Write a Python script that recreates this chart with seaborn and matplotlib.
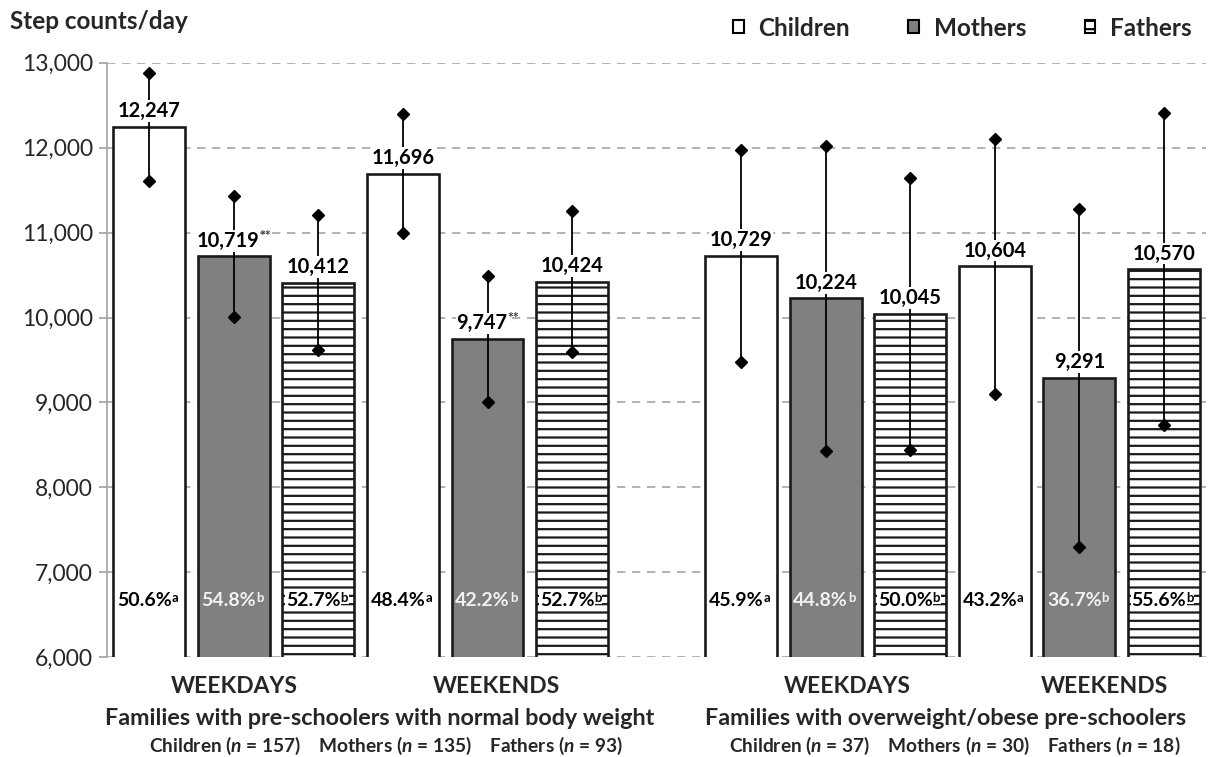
import pandas as pd
import seaborn as sns
import matplotlib.pyplot as plt
import matplotlib.ticker as mticker
from matplotlib.patches import Patch

sns.set_theme(style="white")
plt.rcParams["font.family"] = ["Lato", "DejaVu Sans"]
plt.rcParams["mathtext.fontset"] = "custom"
plt.rcParams["mathtext.rm"] = "Lato:bold"
plt.rcParams["mathtext.it"] = "Lato:italic:bold"
plt.rcParams["mathtext.bf"] = "Lato:bold"
plt.rcParams["hatch.linewidth"] = 1.6
plt.rcParams["hatch.color"] = "black"

"""
Step counts/day of children, mothers and fathers, weekdays vs weekends,
for families with normal weight and overweight/obese pre-schoolers.
"""
members = ["Children", "Mothers", "Fathers"]

# means
normal_weekdays = [12247, 10719, 10412]
normal_weekends = [11696, 9747, 10424]
obese_weekdays = [10729, 10224, 10045]
obese_weekends = [10604, 9291, 10570]

# whiskers (+/-)
normal_weekdays_sd = [637, 713, 790]
normal_weekends_sd = [705, 740, 828]
obese_weekdays_sd = [1250, 1795, 1600]
obese_weekends_sd = [1500, 1990, 1835]

# % meeting recommendation + superscripts
normal_weekdays_pct = ["50.6%", "54.8%", "52.7%"]
normal_weekends_pct = ["48.4%", "42.2%", "52.7%"]
obese_weekdays_pct = ["45.9%", "44.8%", "50.0%"]
obese_weekends_pct = ["43.2%", "36.7%", "55.6%"]
pct_sup = ["a", "b", "b"]

# significance marks on the mean labels
normal_weekdays_sig = ["", "**", ""]
normal_weekends_sig = ["", "**", ""]
obese_weekdays_sig = ["", "", ""]
obese_weekends_sig = ["", "", ""]

day_labels = ["WEEKDAYS", "WEEKENDS", "WEEKDAYS", "WEEKENDS"]
family_labels = ["Families with pre-schoolers with normal body weight",
                 "Families with overweight/obese pre-schoolers"]
n_labels = ["Children ($n$ = 157)    Mothers ($n$ = 135)    Fathers ($n$ = 93)",
            "Children ($n$ = 37)    Mothers ($n$ = 30)    Fathers ($n$ = 18)"]

# Build the long table, one row per bar
blocks = [("N-WD", normal_weekdays, normal_weekdays_sd, normal_weekdays_pct, normal_weekdays_sig),
          ("N-WE", normal_weekends, normal_weekends_sd, normal_weekends_pct, normal_weekends_sig),
          ("O-WD", obese_weekdays, obese_weekdays_sd, obese_weekdays_pct, obese_weekdays_sig),
          ("O-WE", obese_weekends, obese_weekends_sd, obese_weekends_pct, obese_weekends_sig)]
rows = []
for key, vals, sds, pcts, sigs in blocks:
    for m, v, s, p, g, sup in zip(members, vals, sds, pcts, sigs, pct_sup):
        rows.append({"slot": key + "-" + m, "member": m, "steps": v, "sd": s,
                     "pct": p, "sup": sup, "sig": g})
df = pd.DataFrame(rows)

order = list(df["slot"][:6]) + ["gap"] + list(df["slot"][6:])
df["pos"] = df["slot"].apply(order.index)

fig = plt.figure(figsize=(12.16, 7.57), dpi=100)
ax = fig.add_axes([0.088, 0.132, 0.904, 0.785])

palette = {"Children": "white", "Mothers": "#808080", "Fathers": "white"}
sns.barplot(data=df, x="slot", y="steps", hue="member", order=order, hue_order=members,
            palette=palette, dodge=False, width=0.85, edgecolor="#1a1a1a", linewidth=1.9,
            errorbar=None, legend=False, ax=ax, zorder=2)
for bar in ax.containers[2]:
    bar.set_hatch("--")

# whiskers with diamond ends
ax.errorbar(df["pos"], df["steps"], yerr=df["sd"], fmt="none", ecolor="black",
            elinewidth=1.3, capsize=0, zorder=3)
ax.plot(df["pos"], df["steps"] + df["sd"], "D", color="black", markersize=6.5, zorder=3)
ax.plot(df["pos"], df["steps"] - df["sd"], "D", color="black", markersize=6.5, zorder=3)

# mean labels
for _, r in df.iterrows():
    shift = -4 if r["sig"] else 0
    t = ax.annotate(f"{r['steps']:,}", xy=(r["pos"], r["steps"]), xytext=(shift, 4),
                    textcoords="offset points", ha="center", va="bottom",
                    fontsize=14.5, fontweight="bold", color="black", zorder=5,
                    bbox=dict(fc="white", ec="none", pad=0.6))
    if r["sig"]:
        ax.annotate(r["sig"], xy=(1.0, 1.05), xycoords=t, ha="left", va="top",
                    fontsize=10, fontweight="bold", color="#404040", zorder=5)

# percentage labels inside the bars
for _, r in df.iterrows():
    col = "#f2f2f2" if r["member"] == "Mothers" else "black"
    box = dict(fc="white", ec="none", pad=0.5) if r["member"] == "Fathers" else None
    t = ax.text(r["pos"] - 0.06, 0.096, r["pct"], transform=ax.get_xaxis_transform(),
                ha="center", va="center", fontsize=14, fontweight="bold", color=col,
                zorder=5, bbox=box)
    ax.annotate(r["sup"], xy=(1.0, 1.0), xycoords=t, ha="left", va="top",
                fontsize=9.5, fontweight="bold", color=col, zorder=5,
                bbox=dict(fc="white", ec="none", pad=0.5) if r["member"] == "Fathers" else None)

ax.set_ylim(6000, 13000)
ax.set_xlim(-0.5, len(order) - 0.5)
ax.yaxis.set_major_locator(mticker.MultipleLocator(1000))
ax.yaxis.set_major_formatter(mticker.StrMethodFormatter("{x:,.0f}"))
ax.yaxis.grid(True, linestyle=(0, (5, 4)), color="#a6a6a6", linewidth=1.2)
ax.set_axisbelow(True)
for s in ["top", "right", "bottom"]:
    ax.spines[s].set_visible(False)
ax.spines["left"].set_color("#a6a6a6")
ax.spines["left"].set_linewidth(1.2)
ax.tick_params(axis="y", left=True, length=6, color="#a6a6a6", labelsize=16.5, pad=4)
ax.tick_params(axis="x", bottom=False, labelbottom=False)
ax.set_xlabel("")
ax.set_ylabel("")

# category labels under the axis
xt = ax.get_xaxis_transform()
for xpos, lab in zip([1.0, 4.1, 8.25, 11.3], day_labels):
    ax.text(xpos, -0.05, lab, transform=xt, ha="center", va="center",
            fontsize=16.5, fontweight="bold")
for xpos, lab in zip([2.72, 9.42], family_labels):
    ax.text(xpos, -0.103, lab, transform=xt, ha="center", va="center",
            fontsize=16.8, fontweight="bold")
for xpos, lab in zip([2.8, 9.52], n_labels):
    ax.text(xpos, -0.15, lab, transform=xt, ha="center", va="center",
            fontsize=13.8, fontweight="bold")

fig.text(0.008, 0.972, "Step counts/day", ha="left", va="center",
         fontsize=17.5, fontweight="bold")

handles = [Patch(facecolor="white", edgecolor="black", linewidth=1.5, label="Children"),
           Patch(facecolor="#808080", edgecolor="black", linewidth=1.5, label="Mothers"),
           Patch(facecolor="white", edgecolor="black", linewidth=1.5, hatch="--", label="Fathers")]
fig.legend(handles=handles, loc="center right", bbox_to_anchor=(0.98, 0.963), ncol=3,
           frameon=False, handlelength=0.45, handleheight=0.45, handletextpad=0.6,
           columnspacing=2.4, borderaxespad=0, borderpad=0,
           prop={"weight": "bold", "size": 17.5})

plt.savefig("out.png", dpi=100)
